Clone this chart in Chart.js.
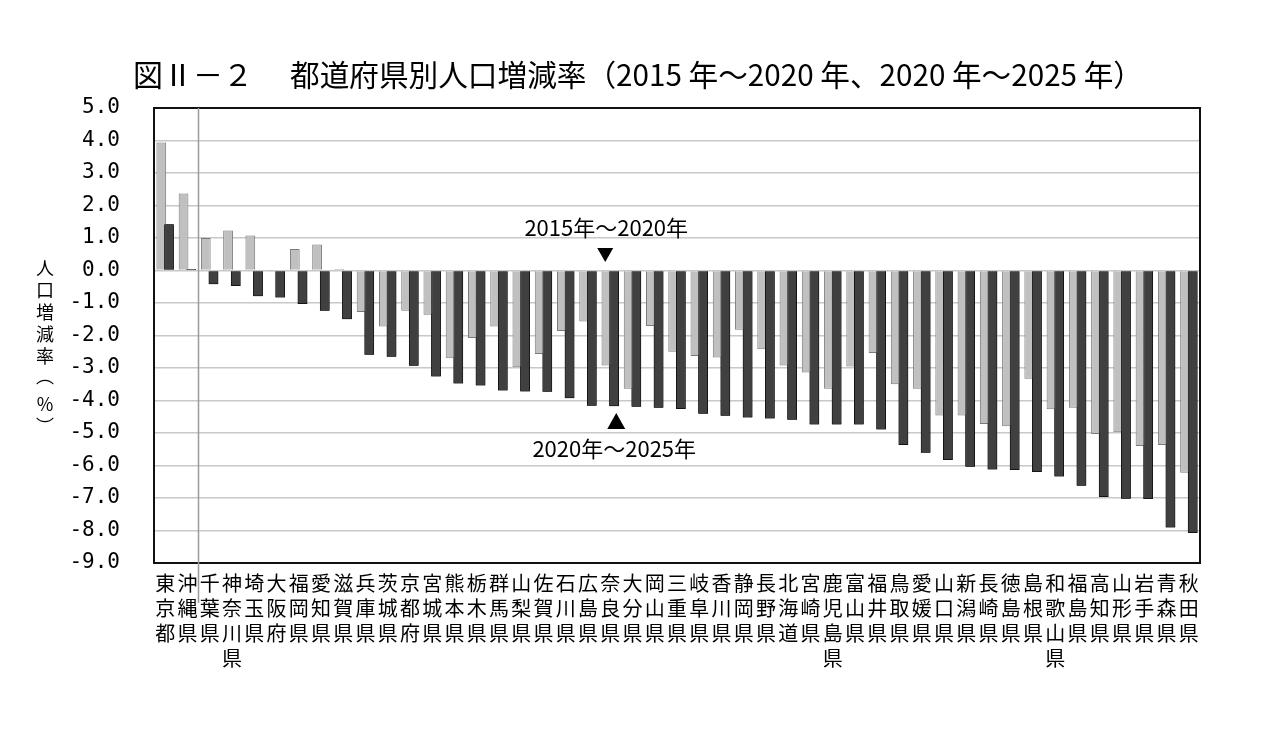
<!DOCTYPE html>
<html lang="ja">
<head>
<meta charset="utf-8">
<title>都道府県別人口増減率</title>
<script src="https://cdn.jsdelivr.net/npm/chart.js@4.4.1/dist/chart.umd.min.js"></script>
<style>
    html, body { margin: 0; padding: 0; background: #fff; }
    #wrap { width: 1280px; height: 737px; }
</style>
</head>
<body>
<div id="wrap"><canvas id="popChart" width="1280" height="737"></canvas></div>
<script>
// 都道府県 (2020年～2025年の増減率が高い順)
const prefectures = [
    '東京都', '沖縄県', '千葉県', '神奈川県', '埼玉県', '大阪府', '福岡県', '愛知県', '滋賀県', '兵庫県',
    '茨城県', '京都府', '宮城県', '熊本県', '栃木県', '群馬県', '山梨県', '佐賀県', '石川県', '広島県',
    '奈良県', '大分県', '岡山県', '三重県', '岐阜県', '香川県', '静岡県', '長野県', '北海道', '宮崎県',
    '鹿児島県', '富山県', '福井県', '鳥取県', '愛媛県', '山口県', '新潟県', '長崎県', '徳島県', '島根県',
    '和歌山県', '福島県', '高知県', '山形県', '岩手県', '青森県', '秋田県'
];

// 2015年～2020年 (%)
const rate2015to2020 = [
    3.94, 2.37, 1.00, 1.23, 1.08, -0.03, 0.66, 0.80, 0.05, -1.28,
    -1.72, -1.24, -1.36, -2.70, -2.08, -1.72, -2.98, -2.57, -1.86, -1.57,
    -2.92, -3.64, -1.71, -2.50, -2.63, -2.68, -1.82, -2.42, -2.92, -3.14,
    -3.64, -2.95, -2.54, -3.50, -3.64, -4.46, -4.46, -4.72, -4.79, -3.33,
    -4.27, -4.22, -5.03, -4.98, -5.40, -5.37, -6.22
];

// 2020年～2025年 (%)
const rate2020to2025 = [
    1.42, 0.05, -0.42, -0.48, -0.79, -0.83, -1.03, -1.24, -1.50, -2.59,
    -2.65, -2.93, -3.26, -3.48, -3.54, -3.69, -3.72, -3.73, -3.93, -4.16,
    -4.18, -4.19, -4.22, -4.26, -4.41, -4.47, -4.52, -4.55, -4.59, -4.74,
    -4.74, -4.74, -4.89, -5.37, -5.61, -5.83, -6.04, -6.12, -6.14, -6.20,
    -6.34, -6.62, -6.97, -7.02, -7.03, -7.91, -8.08
];

const seriesNames = ['2015年～2020年', '2020年～2025年'];
const yMin = -9;
const yMax = 5;

const fontJP = '"Noto Sans CJK JP", "Noto Sans", sans-serif';

// 縦書きラベル (1文字ずつ改行)
const verticalLabels = prefectures.map(name => name.split(''));

// タイトル・軸タイトル・注記などの描画
const decorPlugin = {
    id: 'decor',
    afterDatasetsDraw(chart) {
        // 2020年～2025年の棒を手前に描き直す
        chart.getDatasetMeta(1).controller.draw();
    },
    afterDraw(chart) {
        const ctx = chart.ctx;
        const area = chart.chartArea;
        const xScale = chart.scales.x;
        ctx.save();

        // 枠線
        ctx.strokeStyle = '#111';
        ctx.lineWidth = 2;
        ctx.strokeRect(area.left, area.top, area.right - area.left, area.bottom - area.top);

        // 東京都・沖縄県 と その他 の区切り線
        const sepX = (xScale.getPixelForValue(1) + xScale.getPixelForValue(2)) / 2;
        ctx.strokeStyle = '#9a9a9a';
        ctx.lineWidth = 1.5;
        ctx.beginPath();
        ctx.moveTo(sepX, area.top);
        ctx.lineTo(sepX, 603);
        ctx.stroke();

        // タイトル
        ctx.fillStyle = '#000';
        ctx.textBaseline = 'middle';
        ctx.textAlign = 'left';
        ctx.font = '30px ' + fontJP;
        ctx.fillText('図Ⅱ－２', 133, 75);
        ctx.fillText('都道府県別人口増減率（2015 年～2020 年、2020 年～2025 年）', 290, 75, 853);

        // 縦軸タイトル (縦書き)
        ctx.textAlign = 'center';
        ctx.font = '18px ' + fontJP;
        const axisChars = ['人', '口', '増', '減', '率', '︵', '%', '︶'];
        const axisY = [268, 290, 312, 334, 356, 376, 404, 426];
        axisChars.forEach((ch, i) => ctx.fillText(ch, 45, axisY[i]));

        // 注記
        const naraX = xScale.getPixelForValue(20);
        ctx.font = '22px ' + fontJP;
        ctx.fillText(seriesNames[0], naraX - 4, 228);
        ctx.fillText(seriesNames[1], naraX + 4, 449);

        // ▼ (2015年～2020年)
        const tx1 = naraX - 5;
        ctx.beginPath();
        ctx.moveTo(tx1 - 8, 248);
        ctx.lineTo(tx1 + 8, 248);
        ctx.lineTo(tx1, 262);
        ctx.closePath();
        ctx.fill();

        // ▲ (2020年～2025年)
        const tx2 = naraX + 6;
        ctx.beginPath();
        ctx.moveTo(tx2 - 9, 429);
        ctx.lineTo(tx2 + 9, 429);
        ctx.lineTo(tx2, 413);
        ctx.closePath();
        ctx.fill();

        ctx.restore();
    }
};

const ctx = document.getElementById('popChart').getContext('2d');
const popChart = new Chart(ctx, {
    type: 'bar',
    data: {
        labels: verticalLabels,
        datasets: [
            {
                label: seriesNames[0],
                data: rate2015to2020,
                backgroundColor: '#c0c0c0',
                borderColor: '#7a7a7a',
                borderWidth: 1,
                categoryPercentage: 0.69,
                barPercentage: 1.27
            },
            {
                label: seriesNames[1],
                data: rate2020to2025,
                backgroundColor: '#404040',
                borderColor: '#151515',
                borderWidth: 1,
                categoryPercentage: 0.69,
                barPercentage: 1.27
            }
        ]
    },
    options: {
        responsive: false,
        animation: false,
        devicePixelRatio: 1,
        layout: {
            padding: { top: 108, right: 80, left: 0, bottom: 0 }
        },
        scales: {
            x: {
                grid: { display: false, drawTicks: false },
                border: { display: false },
                ticks: {
                    autoSkip: false,
                    maxRotation: 0,
                    minRotation: 0,
                    padding: 8,
                    color: '#000',
                    font: { family: fontJP, size: 20, lineHeight: 1.25 }
                },
                afterFit(scale) {
                    scale.height = 174;
                }
            },
            y: {
                min: yMin,
                max: yMax,
                grid: {
                    color: '#c8c8c8',
                    lineWidth: 1.5,
                    drawTicks: false
                },
                border: { display: false },
                ticks: {
                    stepSize: 1,
                    padding: 34,
                    color: '#000',
                    font: { family: '"DejaVu Sans Mono", monospace', size: 21 },
                    callback: function(value) {
                        return value.toFixed(1);
                    }
                },
                afterFit(scale) {
                    scale.width = 154;
                }
            }
        },
        plugins: {
            legend: { display: false },
            tooltip: { enabled: false },
            title: { display: false }
        }
    },
    plugins: [decorPlugin]
});
</script>
</body>
</html>
